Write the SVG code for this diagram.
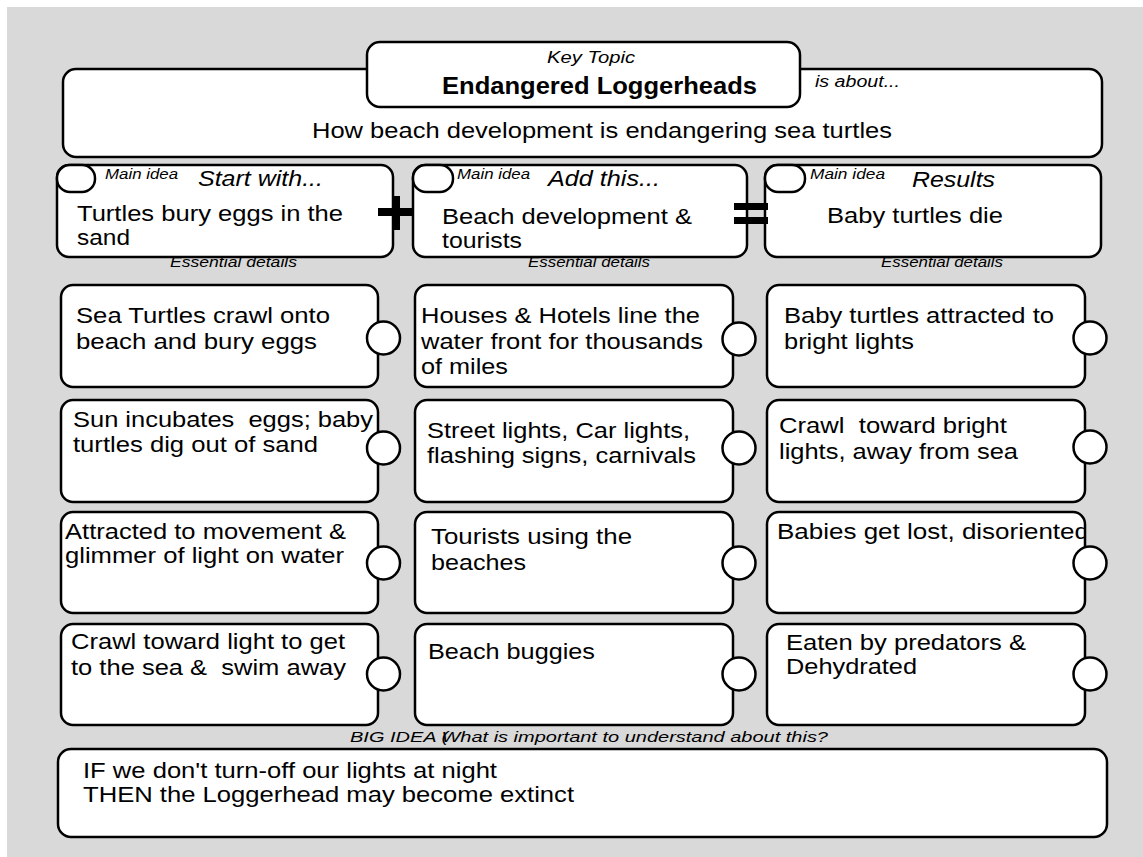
<svg xmlns="http://www.w3.org/2000/svg" width="1143" height="857" viewBox="0 0 1143 857">
  <style>
    .box { fill: #ffffff; stroke: #000000; stroke-width: 2.5; }
    .knob { fill: #ffffff; stroke: #000000; stroke-width: 2.5; }
    .t { font-family: "Liberation Sans", Arial, sans-serif; fill: #000000; white-space: pre; }
    .body { font-size: 22px; }
    .small { font-size: 14px; font-style: italic; }
    .head { font-size: 22px; font-style: italic; }
    .sym { fill: #000000; }
  </style>
  <defs>
    <clipPath id="clip-r3c3"><rect x="768" y="513" width="316" height="99"/></clipPath>
  </defs>

  <!-- page background -->
  <rect x="7" y="7" width="1136" height="850" fill="#d9d9d9"/>

  <!-- topic summary -->
  <g id="topic-summary">
    <rect class="box" x="63" y="69" width="1039" height="88" rx="13"/>
    <text class="t" x="815" y="87" font-size="16" font-style="italic" textLength="85" lengthAdjust="spacingAndGlyphs">is about...</text>
    <text class="t body" x="312" y="138" textLength="580" lengthAdjust="spacingAndGlyphs">How beach development is endangering sea turtles</text>
  </g>

  <!-- key topic -->
  <g id="key-topic">
    <rect class="box" x="367" y="42" width="433" height="65" rx="13"/>
    <text class="t" x="547" y="63" font-size="17" font-style="italic" textLength="88" lengthAdjust="spacingAndGlyphs">Key Topic</text>
    <text class="t" x="442" y="94" font-size="23" font-weight="bold" textLength="315" lengthAdjust="spacingAndGlyphs">Endangered Loggerheads</text>
  </g>

  <!-- main ideas -->
  <g id="main-start">
    <rect class="box" x="57" y="165" width="336" height="92" rx="12"/>
    <rect class="box" x="57" y="165" width="38" height="27" rx="13"/>
    <text class="t small" x="105" y="179" textLength="73" lengthAdjust="spacingAndGlyphs">Main idea</text>
    <text class="t head" x="198" y="186" textLength="125" lengthAdjust="spacingAndGlyphs">Start with...</text>
    <text class="t body" x="77" y="221" textLength="266" lengthAdjust="spacingAndGlyphs">Turtles bury eggs in the</text>
    <text class="t body" x="77" y="245" textLength="53" lengthAdjust="spacingAndGlyphs">sand</text>
    <text class="t small" x="170" y="267" textLength="127" lengthAdjust="spacingAndGlyphs">Essential details</text>
  </g>
  <g id="main-add">
    <rect class="box" x="413" y="165" width="334" height="92" rx="12"/>
    <rect class="box" x="413" y="165" width="40" height="27" rx="13"/>
    <text class="t small" x="457" y="179" textLength="73" lengthAdjust="spacingAndGlyphs">Main idea</text>
    <text class="t head" x="548" y="186" textLength="112" lengthAdjust="spacingAndGlyphs">Add this...</text>
    <text class="t body" x="442" y="224" textLength="250" lengthAdjust="spacingAndGlyphs">Beach development &amp;</text>
    <text class="t body" x="442" y="248" textLength="80" lengthAdjust="spacingAndGlyphs">tourists</text>
    <text class="t small" x="528" y="267" textLength="122" lengthAdjust="spacingAndGlyphs">Essential details</text>
  </g>
  <g id="main-results">
    <rect class="box" x="765" y="165" width="336" height="92" rx="12"/>
    <rect class="box" x="765" y="165" width="40" height="27" rx="13"/>
    <text class="t small" x="810" y="179" textLength="75" lengthAdjust="spacingAndGlyphs">Main idea</text>
    <text class="t head" x="912" y="187" textLength="83" lengthAdjust="spacingAndGlyphs">Results</text>
    <text class="t body" x="827" y="223" textLength="176" lengthAdjust="spacingAndGlyphs">Baby turtles die</text>
    <text class="t small" x="881" y="267" textLength="122" lengthAdjust="spacingAndGlyphs">Essential details</text>
  </g>

  <!-- operators between main ideas -->
  <g id="connectors">
    <rect class="sym" x="378" y="208" width="35" height="8"/>
    <rect class="sym" x="392" y="196" width="8" height="34"/>
    <rect class="sym" x="734" y="203" width="34" height="7"/>
    <rect class="sym" x="734" y="217" width="34" height="7"/>
  </g>

  <!-- column 1 details -->
  <g id="d-r1c1">
    <rect class="box" x="61" y="285" width="317" height="102" rx="12"/>
    <circle class="knob" cx="383.5" cy="338" r="16.5"/>
    <text class="t body" x="76" y="323" textLength="254" lengthAdjust="spacingAndGlyphs">Sea Turtles crawl onto</text>
    <text class="t body" x="76" y="349" textLength="241" lengthAdjust="spacingAndGlyphs">beach and bury eggs</text>
  </g>
  <g id="d-r2c1">
    <rect class="box" x="61" y="400" width="317" height="102" rx="12"/>
    <circle class="knob" cx="383.5" cy="448" r="16.5"/>
    <text class="t body" x="73" y="427" textLength="300" lengthAdjust="spacingAndGlyphs">Sun incubates  eggs; baby</text>
    <text class="t body" x="73" y="452" textLength="245" lengthAdjust="spacingAndGlyphs">turtles dig out of sand</text>
  </g>
  <g id="d-r3c1">
    <rect class="box" x="61" y="512" width="317" height="101" rx="12"/>
    <circle class="knob" cx="383.5" cy="563" r="16.5"/>
    <text class="t body" x="65" y="539" textLength="281" lengthAdjust="spacingAndGlyphs">Attracted to movement &amp;</text>
    <text class="t body" x="65" y="563" textLength="279" lengthAdjust="spacingAndGlyphs">glimmer of light on water</text>
  </g>
  <g id="d-r4c1">
    <rect class="box" x="61" y="624" width="317" height="101" rx="12"/>
    <circle class="knob" cx="383.5" cy="674" r="16.5"/>
    <text class="t body" x="71" y="649" textLength="274" lengthAdjust="spacingAndGlyphs">Crawl toward light to get</text>
    <text class="t body" x="71" y="675" textLength="275" lengthAdjust="spacingAndGlyphs">to the sea &amp;  swim away</text>
  </g>

  <!-- column 2 details -->
  <g id="d-r1c2">
    <rect class="box" x="415" y="285" width="318" height="102" rx="12"/>
    <circle class="knob" cx="739" cy="339" r="16.5"/>
    <text class="t body" x="421" y="323" textLength="279" lengthAdjust="spacingAndGlyphs">Houses &amp; Hotels line the</text>
    <text class="t body" x="421" y="349" textLength="282" lengthAdjust="spacingAndGlyphs">water front for thousands</text>
    <text class="t body" x="421" y="374" textLength="87" lengthAdjust="spacingAndGlyphs">of miles</text>
  </g>
  <g id="d-r2c2">
    <rect class="box" x="415" y="400" width="318" height="102" rx="12"/>
    <circle class="knob" cx="739" cy="448" r="16.5"/>
    <text class="t body" x="427" y="438" textLength="263" lengthAdjust="spacingAndGlyphs">Street lights, Car lights,</text>
    <text class="t body" x="427" y="463" textLength="269" lengthAdjust="spacingAndGlyphs">flashing signs, carnivals</text>
  </g>
  <g id="d-r3c2">
    <rect class="box" x="415" y="512" width="318" height="101" rx="12"/>
    <circle class="knob" cx="739" cy="563" r="16.5"/>
    <text class="t body" x="431" y="544" textLength="201" lengthAdjust="spacingAndGlyphs">Tourists using the</text>
    <text class="t body" x="431" y="570" textLength="95" lengthAdjust="spacingAndGlyphs">beaches</text>
  </g>
  <g id="d-r4c2">
    <rect class="box" x="415" y="624" width="318" height="101" rx="12"/>
    <circle class="knob" cx="739" cy="674" r="16.5"/>
    <text class="t body" x="428" y="659" textLength="167" lengthAdjust="spacingAndGlyphs">Beach buggies</text>
  </g>

  <!-- column 3 details -->
  <g id="d-r1c3">
    <rect class="box" x="767" y="285" width="318" height="102" rx="12"/>
    <circle class="knob" cx="1090" cy="338" r="16.5"/>
    <text class="t body" x="784" y="323" textLength="270" lengthAdjust="spacingAndGlyphs">Baby turtles attracted to</text>
    <text class="t body" x="784" y="349" textLength="130" lengthAdjust="spacingAndGlyphs">bright lights</text>
  </g>
  <g id="d-r2c3">
    <rect class="box" x="767" y="400" width="318" height="102" rx="12"/>
    <circle class="knob" cx="1090" cy="447" r="16.5"/>
    <text class="t body" x="779" y="433" textLength="228" lengthAdjust="spacingAndGlyphs">Crawl  toward bright</text>
    <text class="t body" x="779" y="459" textLength="239" lengthAdjust="spacingAndGlyphs">lights, away from sea</text>
  </g>
  <g id="d-r3c3">
    <rect class="box" x="767" y="512" width="318" height="101" rx="12"/>
    <text class="t body" x="777" y="539" textLength="312" lengthAdjust="spacingAndGlyphs" clip-path="url(#clip-r3c3)">Babies get lost, disoriented</text>
    <circle class="knob" cx="1090" cy="563" r="16.5"/>
  </g>
  <g id="d-r4c3">
    <rect class="box" x="767" y="624" width="318" height="101" rx="12"/>
    <circle class="knob" cx="1090" cy="674" r="16.5"/>
    <text class="t body" x="786" y="650" textLength="240" lengthAdjust="spacingAndGlyphs">Eaten by predators &amp;</text>
    <text class="t body" x="786" y="674" textLength="131" lengthAdjust="spacingAndGlyphs">Dehydrated</text>
  </g>

  <!-- big idea -->
  <g id="big-idea">
    <text class="t" x="350" y="742" font-size="15" font-style="italic" textLength="478" lengthAdjust="spacingAndGlyphs">BIG IDEA <tspan>(</tspan><tspan dx="-5">What is important to understand about this?</tspan></text>
    <rect class="box" x="58" y="749" width="1049" height="88" rx="13"/>
    <text class="t body" x="83" y="778" textLength="414" lengthAdjust="spacingAndGlyphs">IF we don't turn-off our lights at night</text>
    <text class="t body" x="83" y="802" textLength="491" lengthAdjust="spacingAndGlyphs">THEN the Loggerhead may become extinct</text>
  </g>
</svg>
